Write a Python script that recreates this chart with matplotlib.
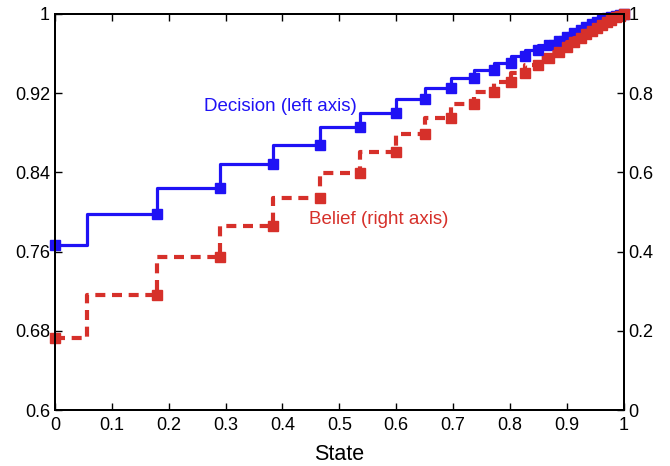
import matplotlib
matplotlib.use('Agg')
import matplotlib.pyplot as plt

plt.rcParams['font.family'] = ['Liberation Sans', 'DejaVu Sans']

# state values where the policy steps
state = [0.0, 0.057, 0.180, 0.290, 0.384, 0.466, 0.536, 0.599, 0.651, 0.697,
         0.736, 0.772, 0.801, 0.827, 0.849, 0.869, 0.886, 0.900, 0.913, 0.924,
         0.934, 0.944, 0.953, 0.962, 0.971, 0.978, 0.986, 0.993, 1.0]
# level of each step segment
decision = [0.767, 0.798, 0.824, 0.848, 0.868, 0.886, 0.900, 0.914, 0.925,
            0.935, 0.943, 0.951, 0.958, 0.964, 0.969, 0.973, 0.977, 0.981,
            0.984, 0.987, 0.990, 0.992, 0.994, 0.996, 0.997, 0.998, 0.999, 1.0]
belief = [0.181, 0.290, 0.386, 0.465, 0.536, 0.598, 0.651, 0.697, 0.737,
          0.772, 0.804, 0.829, 0.850, 0.871, 0.888, 0.905, 0.917, 0.929,
          0.939, 0.949, 0.957, 0.965, 0.972, 0.979, 0.985, 0.992, 0.996, 1.0]

x_ticks = [0, 0.1, 0.2, 0.3, 0.4, 0.5, 0.6, 0.7, 0.8, 0.9, 1]
x_labels = ['0', '0.1', '0.2', '0.3', '0.4', '0.5', '0.6', '0.7', '0.8', '0.9', '1']
left_ticks = [0.6, 0.68, 0.76, 0.84, 0.92, 1.0]
left_labels = ['0.6', '0.68', '0.76', '0.84', '0.92', '1']
right_ticks = [0, 0.2, 0.4, 0.6, 0.8, 1.0]
right_labels = ['0', '0.2', '0.4', '0.6', '0.8', '1']

BLUE = '#1f12f5'
RED = '#d6302a'


def step_line(levels):
    # steps-post needs the last level repeated at the end
    return state, levels + [levels[-1]]


def marker_pts(levels):
    # markers sit at the end of each flat segment (no marker on first riser)
    return [state[0]] + state[2:], levels


fig = plt.figure(figsize=(6.7, 4.66), dpi=100)
ax = fig.add_axes([0.082, 0.120, 0.849, 0.850])
ax2 = ax.twinx()

xs, ys = step_line(decision)
ax.plot(xs, ys, drawstyle='steps-post', color=BLUE, lw=2.3)
mx, my = marker_pts(decision)
ax.plot(mx, my, 's', color=BLUE, ms=7, mec=BLUE, clip_on=False)

xs, ys = step_line(belief)
ax2.plot(xs, ys, drawstyle='steps-post', color=RED, lw=3.0, dashes=(2.4, 1.6))
mx, my = marker_pts(belief)
ax2.plot(mx, my, 's', color=RED, ms=7, mec=RED, clip_on=False)

ax.set_xlim(0, 1)
ax.set_ylim(0.6, 1)
ax2.set_ylim(0, 1)
ax.set_xticks(x_ticks)
ax.set_xticklabels(x_labels)
ax.set_yticks(left_ticks)
ax.set_yticklabels(left_labels)
ax2.set_yticks(right_ticks)
ax2.set_yticklabels(right_labels)

ax.tick_params(axis='x', direction='in', top=True, length=5, width=1,
               labelsize=13, pad=5)
ax.tick_params(axis='y', direction='in', right=False, length=5, width=1,
               labelsize=13)
ax2.tick_params(axis='y', direction='in', length=5, width=1, labelsize=13)
for a in (ax, ax2):
    for sp in a.spines.values():
        sp.set_linewidth(1.4)

ax.set_xlabel('State', fontsize=15.5, labelpad=7)

ax.text(0.262, 0.907, 'Decision (left axis)', color=BLUE, fontsize=13.5,
        va='center', ha='left')
ax.text(0.446, 0.792, 'Belief (right axis)', color=RED, fontsize=13.5,
        va='center', ha='left')

fig.savefig('out.png', dpi=100)
